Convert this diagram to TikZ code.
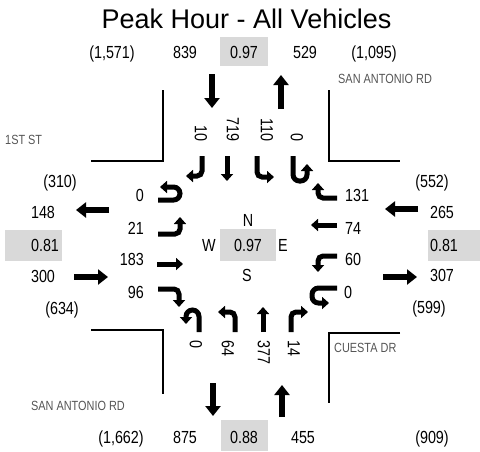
\documentclass[tikz,border=0pt]{standalone}
\usepackage{fontspec}
\setmainfont{Liberation Sans}
\newfontfamily\narrowfont{Liberation Sans}[FakeStretch=0.82]
\usetikzlibrary{arrows.meta}
\definecolor{boxgray}{RGB}{217,217,217}
\definecolor{streetgray}{RGB}{85,85,85}

\begin{document}
\begin{tikzpicture}[
    x=1pt, y=-1pt,
    num/.style={font=\narrowfont\fontsize{17.5}{19}\selectfont, inner sep=0pt,
                text height=12.5pt, text depth=0pt},
    vnum/.style={num, rotate=-90},
    street/.style={font=\narrowfont\fontsize{13.3}{14}\selectfont, text=streetgray,
                   inner sep=0pt},
    curb/.style={line width=1.5pt},
    pbox/.style={fill=boxgray},
    bigarr/.style={line width=6pt, -{Triangle[length=10pt,width=15pt]}},
    mvarr/.style={line width=5pt, rounded corners=5pt,
                  -{Triangle[length=7pt,width=12pt]}},
    uarr/.style={mvarr, rounded corners=6.5pt},
]
\useasboundingbox (0,0) rectangle (480,451);

\node[font=\fontsize{27}{30}\selectfont, anchor=base, inner sep=0pt] (title) at (246.5,28) {Peak Hour - All Vehicles};

% peak hour factor boxes
\fill[pbox] (220,37) rectangle (268,66);
\fill[pbox] (5,230) rectangle (62,261);
\fill[pbox] (428,230) rectangle (480,261);
\fill[pbox] (220,229) rectangle (276,261);
\fill[pbox] (221,420) rectangle (268,451);

% curb lines
\draw[curb] (163,90) -- (163,161) -- (91,161);
\draw[curb] (329,90) -- (329,161) -- (400,161);
\draw[curb] (91,330) -- (163,330) -- (163,394);
\draw[curb] (400,333) -- (329,333) -- (329,403);

% street names
\node[street, anchor=base west] (sanantN) at (338,83) {SAN ANTONIO RD};
\node[street, anchor=base west] (firstst) at (5,144) {1ST ST};
\node[street, anchor=base west] (cuesta) at (334,352) {CUESTA DR};
\node[street, anchor=base east] (sanantS) at (125,410) {SAN ANTONIO RD};

% north leg
\node[num] (ntot1) at (112,52) {(1,571)};
\node[num] (nout) at (185,52) {839};
\node[num] (nphf) at (244,52) {0.97};
\node[num] (nin) at (305,52) {529};
\node[num] (ntot2) at (374,52) {(1,095)};
\draw[bigarr] (212,74) -- (212,108);
\draw[bigarr] (281,109) -- (281,75);
\node[vnum, anchor=east] (sbr) at (201,142) {10};
\node[vnum, anchor=east] (sbt) at (233,142) {719};
\node[vnum, anchor=east] (sbl) at (267,142) {110};
\node[vnum, anchor=east] (sbu) at (297,142) {0};
\draw[mvarr] (202,156) -- (202,176) -- (186,176);
\draw[mvarr] (227,156) -- (227,181);
\draw[mvarr] (257,156) -- (257,177) -- (274,177);
\draw[uarr] (293,156) -- (293,181) -- (307,181) -- (307,164);

% west leg
\node[num] (wtot1) at (60,181) {(310)};
\node[num] (wout) at (43,212) {148};
\node[num] (wphf) at (45,245) {0.81};
\node[num] (win) at (43,276) {300};
\node[num] (wtot2) at (62,308) {(634)};
\draw[bigarr] (109,210) -- (76,210);
\draw[bigarr] (74,277) -- (108,277);
\node[num, anchor=east] (ebu) at (144,195) {0};
\node[num, anchor=east] (ebl) at (144,228) {21};
\node[num, anchor=east] (ebt) at (144,259) {183};
\node[num, anchor=east] (ebr) at (144,292) {96};
\draw[uarr] (158,200) -- (180,200) -- (180,187) -- (160,187);
\draw[mvarr] (158,234) -- (180,234) -- (180,217);
\draw[mvarr] (157,264) -- (183,264);
\draw[mvarr] (158,289) -- (179,289) -- (179,307);

% east leg
\node[num] (etot1) at (432,181) {(552)};
\node[num] (ein) at (442,212) {265};
\node[num] (ephf) at (444,245) {0.81};
\node[num] (eout) at (442,275) {307};
\node[num] (etot2) at (429,307) {(599)};
\draw[bigarr] (418,209) -- (385,209);
\draw[bigarr] (383,277) -- (417,277);
\node[num, anchor=west] (wbr) at (345,195) {131};
\node[num, anchor=west] (wbt) at (345,228) {74};
\node[num, anchor=west] (wbl) at (345,259) {60};
\node[num, anchor=west] (wbu) at (344,292) {0};
\draw[mvarr] (337,198) -- (318,198) -- (318,183);
\draw[mvarr] (337,225) -- (311,225);
\draw[mvarr] (337,256) -- (318,256) -- (318,272);
\draw[uarr] (337,288) -- (312,288) -- (312,303) -- (329,303);

% intersection
\node[num] (cphf) at (248,245) {0.97};
\node[num] (north) at (248,220) {N};
\node[num] (south) at (247,275) {S};
\node[num] (west) at (209,245) {W};
\node[num] (east) at (283,245) {E};

% south leg
\node[vnum, anchor=west] (nbu) at (196,340) {0};
\node[vnum, anchor=west] (nbl) at (228,340) {64};
\node[vnum, anchor=west] (nbt) at (264,340) {377};
\node[vnum, anchor=west] (nbr) at (294,340) {14};
\draw[uarr] (199,332) -- (199,310) -- (186,310) -- (186,324);
\draw[mvarr] (235,332) -- (235,312) -- (218,312);
\draw[mvarr] (263,332) -- (263,307);
\draw[mvarr] (291,332) -- (291,312) -- (308,312);
\draw[bigarr] (213,383) -- (213,416);
\draw[bigarr] (282,417) -- (282,385);
\node[num] (stot1) at (121,437) {(1,662)};
\node[num] (sout) at (185,437) {875};
\node[num] (sphf) at (244,437) {0.88};
\node[num] (sin) at (303,437) {455};
\node[num] (stot2) at (432,437) {(909)};

\end{tikzpicture}
\end{document}
